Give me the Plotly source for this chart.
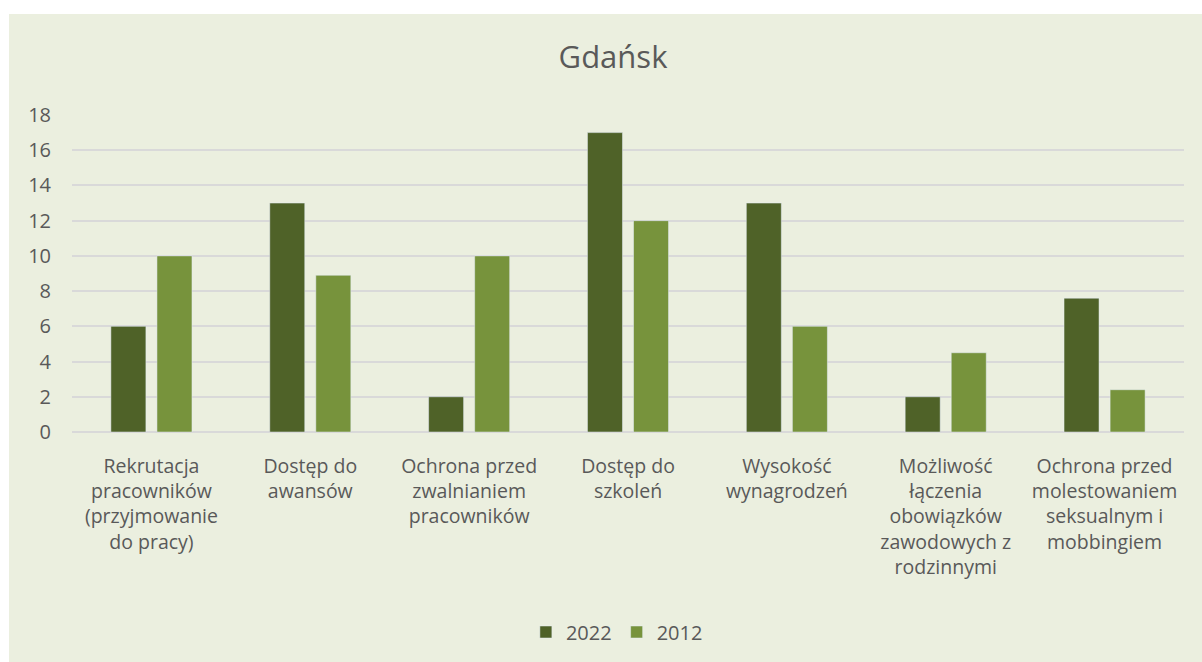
import plotly.graph_objects as go

# Category labels (wrapped) and values for each survey year
categories = [
    "Rekrutacja<br>pracowników<br>(przyjmowanie<br>do pracy)",
    "Dostęp do<br>awansów",
    "Ochrona przed<br>zwalnianiem<br>pracowników",
    "Dostęp do<br>szkoleń",
    "Wysokość<br>wynagrodzeń",
    "Możliwość<br>łączenia<br>obowiązków<br>zawodowych z<br>rodzinnymi",
    "Ochrona przed<br>molestowaniem<br>seksualnym i<br>mobbingiem",
]
values_2022 = [6, 13, 2, 17, 13, 2, 7.6]
values_2012 = [10, 8.9, 10, 12, 6, 4.5, 2.4]
y_ticks = [0, 2, 4, 6, 8, 10, 12, 14, 16, 18]

W, H = 1202, 662
ML, MR, MT, MB = 72, 18, 115, 230
plot_w = W - ML - MR
plot_h = H - MT - MB

def px_to_paper_x(px):
    return (px - ML) / plot_w

def px_to_paper_y(py):
    return (H - MB - py) / plot_h

BG = "#EBEFDF"
TEXT = "#595959"
FONT = "Open Sans"

fig = go.Figure()
fig.add_trace(go.Bar(name="2022", x=categories, y=values_2022,
                     marker=dict(color="#4F6228")))
fig.add_trace(go.Bar(name="2012", x=categories, y=values_2012,
                     marker=dict(color="#77933C")))

# Chart-area background panel
fig.add_shape(type="rect", xref="paper", yref="paper",
              x0=px_to_paper_x(9), x1=px_to_paper_x(W + 5),
              y0=px_to_paper_y(H + 5), y1=px_to_paper_y(14),
              fillcolor=BG, line=dict(width=0), layer="below")

fig.update_layout(
    width=W, height=H,
    margin=dict(l=ML, r=MR, t=MT, b=MB, autoexpand=False),
    paper_bgcolor="white",
    plot_bgcolor="rgba(0,0,0,0)",
    barmode="group",
    bargap=0.42,
    bargroupgap=0.24,
    font=dict(family=FONT, color=TEXT, size=19),
    title=dict(text="Gdańsk", x=0.51, xanchor="center",
               y=1 - 57 / H, yanchor="middle",
               font=dict(size=31, color=TEXT, family=FONT)),
    legend=dict(orientation="h", x=0.49, xanchor="center",
                y=px_to_paper_y(632), yanchor="middle",
                font=dict(size=20, color=TEXT, family=FONT),
                bgcolor="rgba(0,0,0,0)", itemwidth=30,
                traceorder="normal"),
    showlegend=True,
)
fig.update_xaxes(showgrid=False, showline=False, ticks="",
                 tickfont=dict(size=19.5, color=TEXT, family=FONT),
                 ticklabelstandoff=20, tickangle=0)
fig.update_yaxes(range=[0, 18], tickvals=y_ticks, showgrid=True,
                 gridcolor="#D9D9D9", gridwidth=1.5, zeroline=True,
                 zerolinecolor="#D9D9D9", zerolinewidth=1.5,
                 showline=False, ticks="",
                 tickfont=dict(size=20, color=TEXT, family=FONT),
                 ticklabelstandoff=20)

fig.write_html("out.html")
